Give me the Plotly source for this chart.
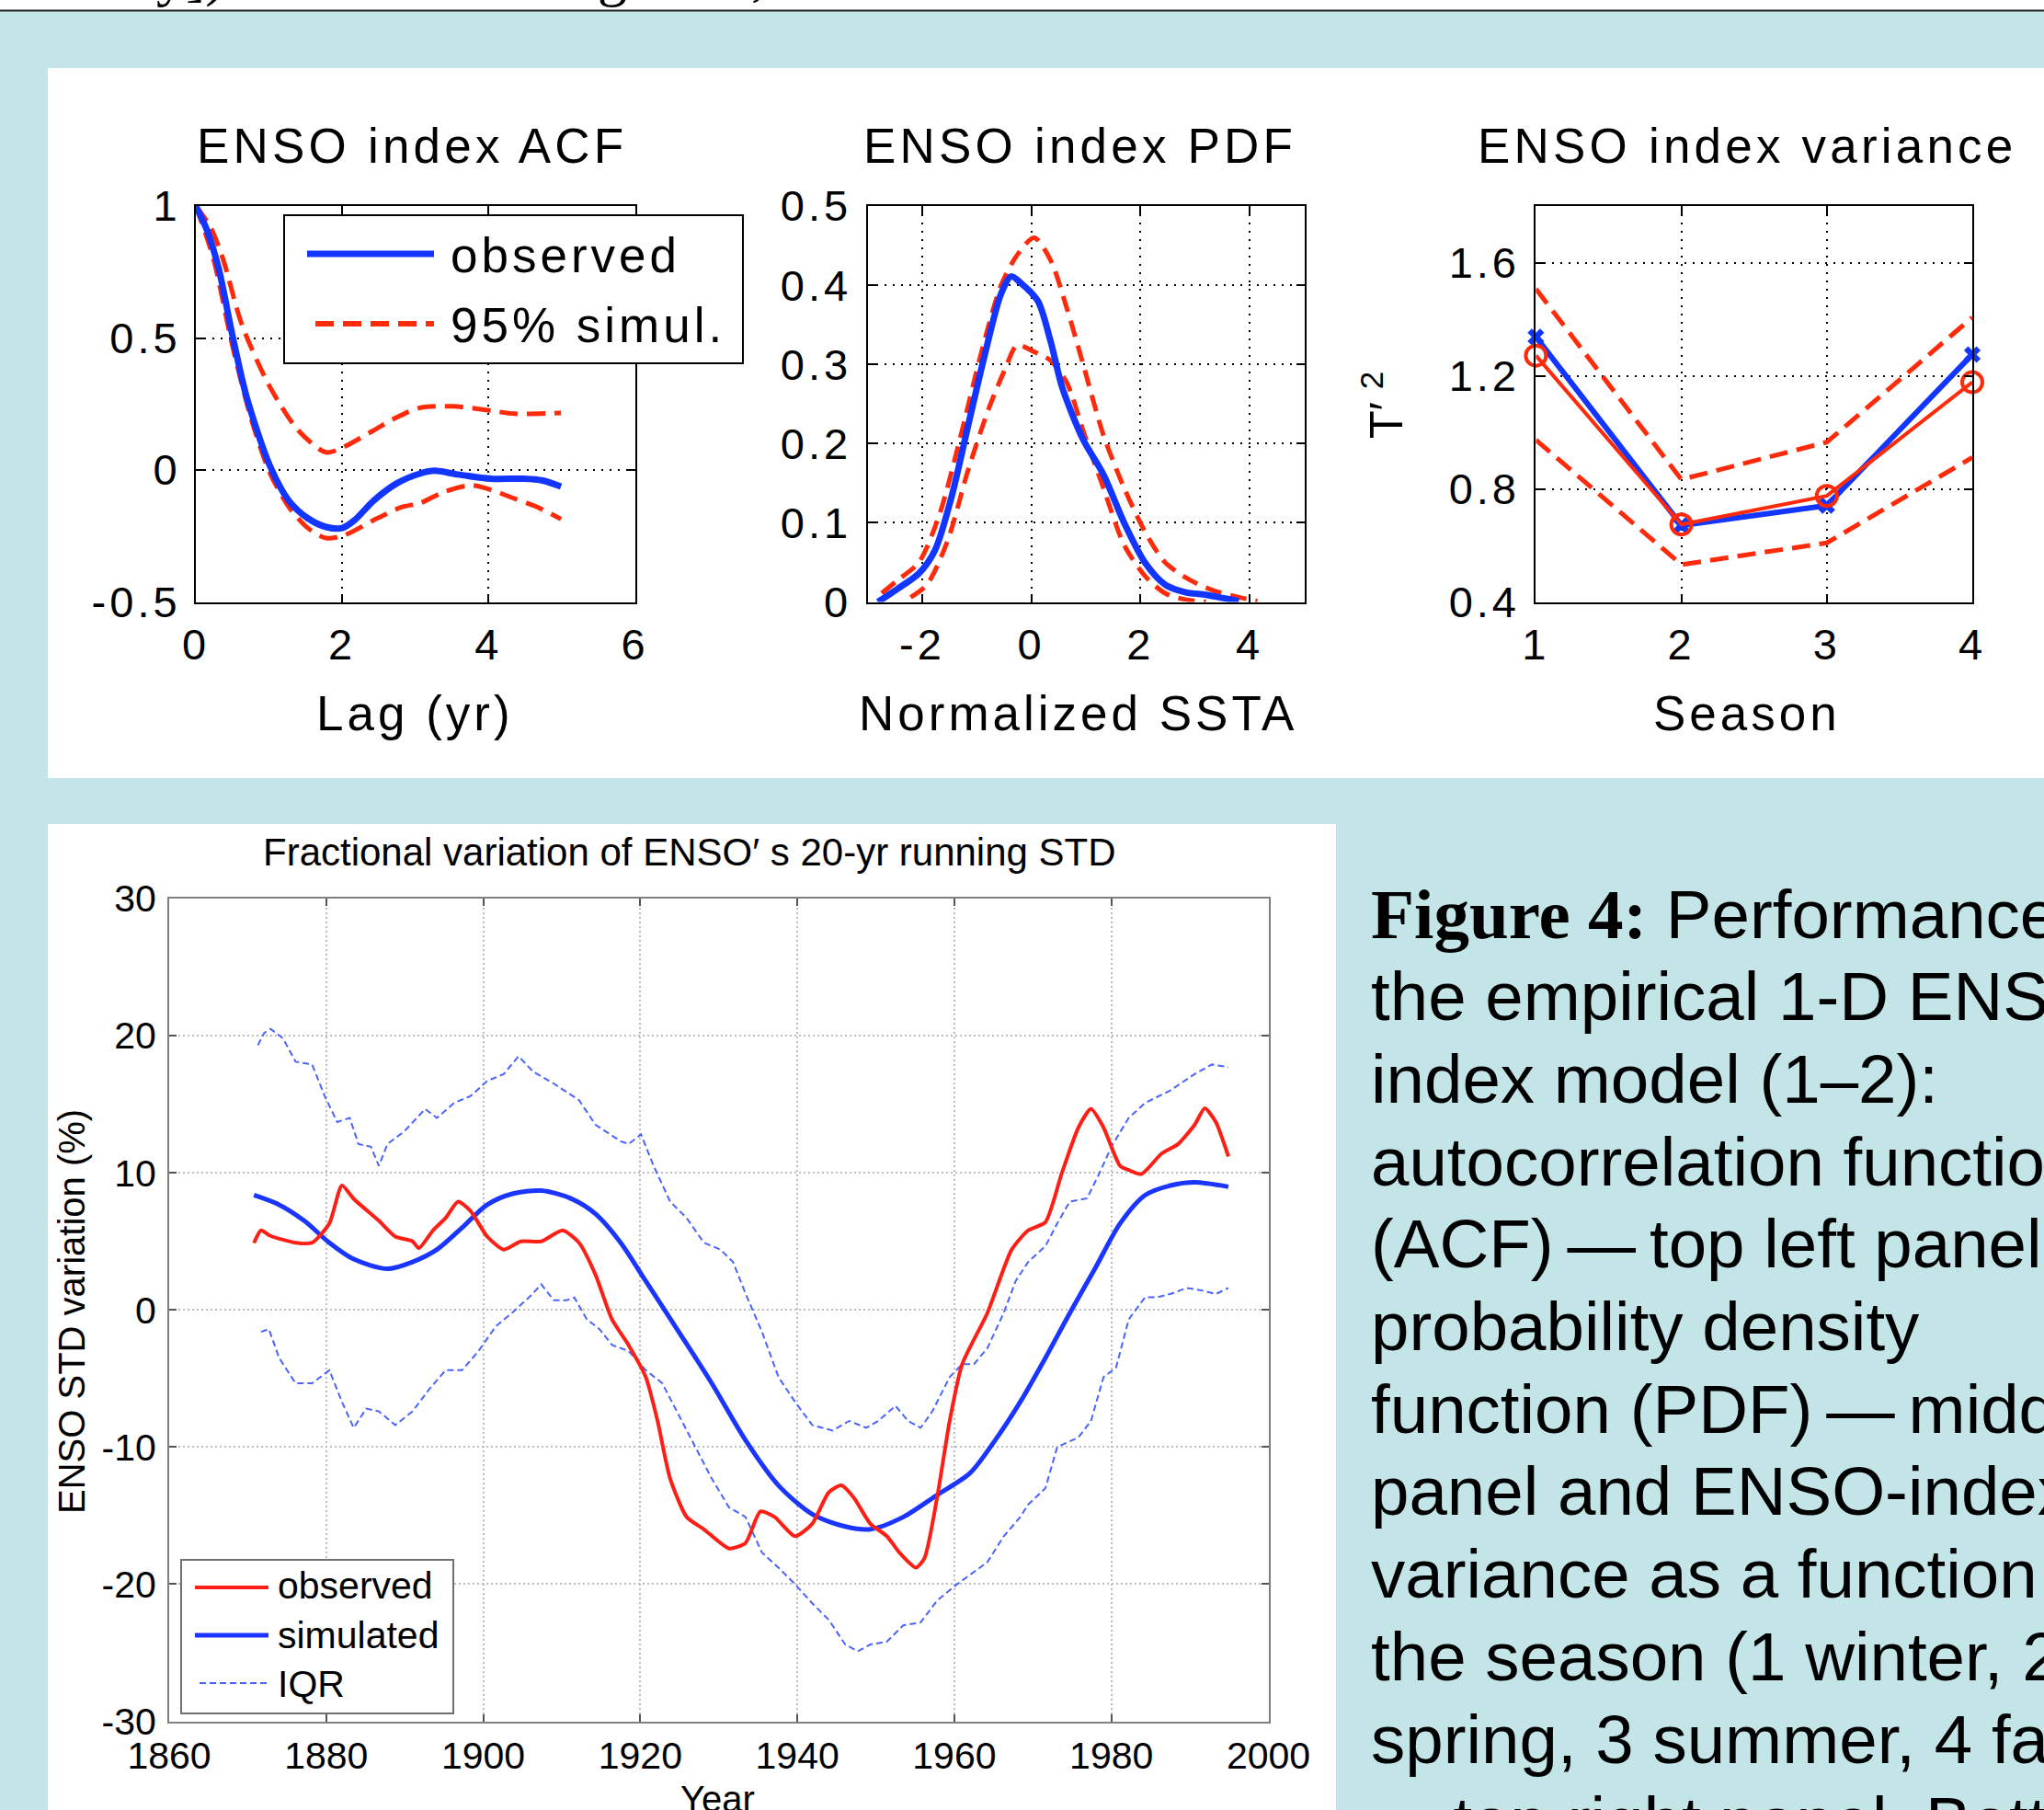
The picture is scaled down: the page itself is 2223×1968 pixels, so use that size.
import plotly.graph_objects as go

W, H = 2223, 1968
SANS = "Liberation Sans, Arial, Helvetica, sans-serif"
SERIF = "Liberation Serif, Times New Roman, serif"

# ---------------- data ----------------
# ACF panel
acf_lag_obs = [0, 0.15, 0.31, 0.5, 0.69, 1.01, 1.27, 1.53, 1.78, 2.0, 2.17, 2.43, 2.75, 3.07, 3.26, 3.58, 4.03, 4.48, 4.74, 4.99]
acf_obs = [1.0, 0.91, 0.765, 0.51, 0.28, 0.017, -0.116, -0.183, -0.216, -0.22, -0.19, -0.116, -0.05, -0.013, -0.003, -0.017, -0.033, -0.033, -0.04, -0.063]
acf_lag_hi = [0, 0.2, 0.37, 0.63, 1.01, 1.40, 1.78, 2.04, 2.43, 2.75, 3.07, 3.52, 4.03, 4.35, 4.99]
acf_hi = [1.0, 0.92, 0.8, 0.55, 0.316, 0.15, 0.067, 0.09, 0.15, 0.2, 0.236, 0.241, 0.225, 0.213, 0.216]
acf_lag_lo = [0, 0.24, 0.5, 0.76, 1.01, 1.27, 1.53, 1.78, 2.04, 2.43, 2.81, 3.07, 3.39, 3.77, 4.03, 4.35, 4.67, 4.99]
acf_lo = [1.0, 0.80, 0.47, 0.19, -0.01, -0.14, -0.22, -0.258, -0.246, -0.19, -0.141, -0.125, -0.083, -0.058, -0.075, -0.108, -0.141, -0.186]

# PDF panel
pdf_x_obs = [-2.81, -2.44, -2.06, -1.76, -1.46, -1.16, -0.86, -0.56, -0.37, -0.18, 0.12, 0.35, 0.57, 0.95, 1.32, 1.70, 2.08, 2.45, 2.83, 3.2, 3.58, 3.8]
pdf_obs = [0.0, 0.017, 0.036, 0.066, 0.133, 0.222, 0.31, 0.388, 0.411, 0.402, 0.38, 0.33, 0.27, 0.205, 0.161, 0.1, 0.05, 0.022, 0.012, 0.009, 0.004, 0.001]
pdf_x_hi = [-2.74, -2.44, -2.06, -1.68, -1.31, -0.93, -0.56, -0.26, 0.05, 0.35, 0.65, 0.95, 1.32, 1.70, 2.08, 2.45, 2.90, 3.35, 3.8, 4.14]
pdf_hi = [0.011, 0.028, 0.05, 0.111, 0.205, 0.311, 0.399, 0.438, 0.46, 0.432, 0.371, 0.3, 0.211, 0.144, 0.089, 0.05, 0.028, 0.014, 0.006, 0.001]
pdf_x_lo = [-2.21, -1.91, -1.53, -1.16, -0.78, -0.48, -0.26, 0.05, 0.35, 0.65, 0.95, 1.32, 1.70, 2.08, 2.45, 2.83, 3.2]
pdf_lo = [0.006, 0.022, 0.078, 0.166, 0.244, 0.294, 0.324, 0.316, 0.305, 0.277, 0.216, 0.144, 0.072, 0.033, 0.011, 0.003, 0.0]

# Variance panel
season = [1, 2, 3, 4]
var_x = [1.337, 0.671, 0.741, 1.275]
var_o = [1.271, 0.674, 0.775, 1.177]
var_hi = [1.507, 0.833, 0.965, 1.406]
var_lo = [0.973, 0.532, 0.609, 0.911]

# Bottom panel: 20-yr running STD
yr_obs = [1870.8, 1871.7, 1872.9, 1876.1, 1878.2, 1880.4, 1882.0, 1883.5, 1886.7, 1888.8, 1891.0, 1891.8, 1893.6, 1895.2,
          1896.8, 1898.4, 1900.5, 1902.6, 1904.8, 1907.4, 1910.1, 1912.2, 1914.3, 1916.4, 1918.5, 1920.7, 1922.2, 1923.8,
          1925.9, 1928.1, 1931.3, 1933.4, 1935.3, 1937.1, 1939.7, 1941.9, 1944.0, 1945.6, 1947.2, 1949.3, 1951.4, 1953.0,
          1955.1, 1956.2, 1957.8, 1959.4, 1961.0, 1964.2, 1967.3, 1969.4, 1971.6, 1973.7, 1975.8, 1977.4, 1979.0, 1981.1,
          1982.2, 1983.8, 1986.4, 1988.5, 1990.6, 1991.9, 1993.3, 1994.9]
std_obs = [4.88, 5.8, 5.4, 4.9, 4.9, 6.3, 9.07, 8.1, 6.5, 5.35, 5.0, 4.5, 5.8, 6.7,
           7.9, 7.2, 5.35, 4.4, 5.0, 5.0, 5.8, 4.9, 2.56, -0.7, -2.56, -4.9, -8.1, -12.3,
           -15.1, -16.0, -17.4, -17.0, -14.7, -15.1, -16.5, -15.6, -13.3, -12.8, -13.7, -15.6, -16.5, -17.7,
           -18.8, -18.1, -13.7, -8.1, -3.95, -0.23, 4.4, 5.8, 6.4, 10.0, 13.3, 14.65, 13.3, 10.5,
           10.2, 9.9, 11.4, 12.1, 13.5, 14.7, 13.7, 11.2]

yr_sim = [1870.8, 1874.0, 1877.2, 1880.4, 1883.5, 1887.8, 1891.0, 1894.1, 1897.3, 1900.5, 1903.7, 1907.4, 1911.1,
          1914.3, 1917.5, 1920.7, 1924.9, 1929.1, 1933.4, 1937.6, 1941.9, 1946.1, 1949.3, 1953.5, 1957.8, 1962.0,
          1965.2, 1968.4, 1971.6, 1974.7, 1977.9, 1981.1, 1984.3, 1987.5, 1990.6, 1994.9]
std_sim = [8.37, 7.67, 6.5, 4.9, 3.7, 3.0, 3.5, 4.4, 6.0, 7.67, 8.47, 8.7, 8.14,
           7.0, 4.9, 2.1, -1.6, -5.35, -9.5, -12.8, -14.9, -15.8, -16.0, -15.1, -13.5, -11.9,
           -9.5, -6.7, -3.5, -0.23, 3.0, 6.3, 8.37, 9.07, 9.3, 8.98]

yr_iqr_hi = [1871.3, 1872.1, 1872.9, 1874.5, 1876.1, 1878.2, 1879.8, 1881.4, 1883.0, 1884.1, 1885.7, 1886.7, 1887.8,
             1889.9, 1892.6, 1894.1, 1896.3, 1898.4, 1900.5, 1902.6, 1904.5, 1906.3, 1909.0, 1912.2, 1914.3, 1917.5,
             1918.5, 1920.1, 1921.7, 1923.8, 1925.9, 1928.1, 1930.2, 1931.8, 1933.4, 1935.5, 1937.6, 1939.7, 1941.9,
             1944.5, 1946.6, 1948.8, 1950.3, 1952.5, 1954.1, 1955.7, 1957.2, 1959.4, 1961.0, 1962.5, 1964.2, 1966.3,
             1967.8, 1969.4, 1971.6, 1973.1, 1974.7, 1976.9, 1978.5, 1980.0, 1982.2, 1984.3, 1987.5, 1990.6, 1992.8, 1994.9]
iqr_hi = [19.3, 20.2, 20.5, 19.8, 18.1, 17.9, 15.6, 13.7, 14.0, 12.1, 11.9, 10.5, 12.1,
          13.0, 14.65, 14.0, 15.1, 15.6, 16.7, 17.2, 18.5, 17.4, 16.5, 15.3, 13.5, 12.3,
          12.1, 12.8, 10.5, 7.9, 6.7, 4.9, 4.4, 3.5, 1.2, -1.6, -4.9, -6.7, -8.4,
          -8.8, -8.1, -8.6, -8.1, -7.0, -8.1, -8.6, -7.4, -4.9, -3.95, -3.95, -2.8, -0.2,
          2.1, 3.5, 4.65, 6.3, 7.9, 8.14, 10.0, 11.9, 14.0, 15.1, 16.0, 17.2, 17.9, 17.7]

yr_iqr_lo = [1871.7, 1872.7, 1874.0, 1876.1, 1878.2, 1880.4, 1882.0, 1883.5, 1885.1, 1886.7, 1888.8, 1891.0, 1893.1,
             1895.2, 1897.3, 1899.4, 1901.6, 1903.7, 1905.8, 1907.4, 1909.0, 1910.6, 1911.6, 1913.2, 1914.8, 1916.4,
             1918.5, 1920.7, 1922.8, 1924.9, 1927.0, 1929.1, 1931.3, 1933.4, 1935.5, 1937.6, 1939.7, 1941.9, 1944.0,
             1946.1, 1947.7, 1949.3, 1951.4, 1953.5, 1955.7, 1957.8, 1959.9, 1962.0, 1964.2, 1966.3, 1968.4, 1969.4,
             1971.6, 1973.1, 1975.8, 1977.4, 1979.0, 1980.6, 1982.2, 1984.3, 1985.9, 1987.5, 1989.6, 1991.7, 1993.3, 1994.9]
iqr_lo = [-1.6, -1.4, -3.5, -5.35, -5.35, -4.4, -6.7, -8.6, -7.2, -7.4, -8.4, -7.4, -5.8,
          -4.4, -4.4, -3.0, -1.2, -0.2, 0.9, 1.86, 0.7, 0.7, 0.9, -0.7, -1.4, -2.56,
          -3.0, -4.4, -5.35, -7.7, -10.0, -12.3, -14.4, -15.1, -17.7, -18.8, -20.0, -21.4, -22.6,
          -24.4, -24.9, -24.4, -24.2, -23.0, -22.8, -21.2, -20.2, -19.3, -18.4, -16.5, -15.1, -14.2,
          -13.0, -10.0, -9.3, -8.1, -4.9, -4.2, -0.7, 0.93, 0.93, 1.16, 1.6, 1.4, 1.16, 1.6]

# tick labels
acf_xticks = [0, 2, 4, 6]
acf_yticks = [-0.5, 0, 0.5, 1]
pdf_xticks = [-2, 0, 2, 4]
pdf_yticks = [0, 0.1, 0.2, 0.3, 0.4, 0.5]
var_xticks = [1, 2, 3, 4]
var_yticks = [0.4, 0.8, 1.2, 1.6]
year_ticks = [1860, 1880, 1900, 1920, 1940, 1960, 1980, 2000]
std_ticks = [-30, -20, -10, 0, 10, 20, 30]

caption_lines = [
    "the empirical 1-D ENSO",
    "index model (1\u20132):",
    "autocorrelation function",
    "(ACF)\u2009\u2014\u2009top left panel",
    "probability density",
    "function (PDF)\u2009\u2014\u2009middle",
    "panel and ENSO-index",
    "variance as a function of",
    "the season (1 winter, 2",
    "spring, 3 summer, 4 fall)",
    "\u2014\u2009top right panel. Bottom",
]

# ---------------- style / helpers ----------------
BLUE = "#1236ff"
RED = "#ff2a0a"
BG = "#c4e5e7"


def px(x):
    return x / W


def py(y):
    return 1 - y / H


def sp(t, ls):
    return f'<span style="letter-spacing:{ls}px">{t}</span>'


def fmt(v):
    return f"{v:g}"


fig = go.Figure()

# ACF
fig.add_trace(go.Scatter(x=acf_lag_hi, y=acf_hi, mode="lines", line=dict(color=RED, width=5, dash="20px,10px", shape="spline", smoothing=0.8), xaxis="x", yaxis="y"))
fig.add_trace(go.Scatter(x=acf_lag_lo, y=acf_lo, mode="lines", line=dict(color=RED, width=5, dash="20px,10px", shape="spline", smoothing=0.8), xaxis="x", yaxis="y"))
fig.add_trace(go.Scatter(x=acf_lag_obs, y=acf_obs, mode="lines", line=dict(color=BLUE, width=7, shape="spline", smoothing=0.8), xaxis="x", yaxis="y"))

# PDF
fig.add_trace(go.Scatter(x=pdf_x_hi, y=pdf_hi, mode="lines", line=dict(color=RED, width=5, dash="18px,10px", shape="spline", smoothing=0.8), xaxis="x2", yaxis="y2"))
fig.add_trace(go.Scatter(x=pdf_x_lo, y=pdf_lo, mode="lines", line=dict(color=RED, width=5, dash="18px,10px", shape="spline", smoothing=0.8), xaxis="x2", yaxis="y2"))
fig.add_trace(go.Scatter(x=pdf_x_obs, y=pdf_obs, mode="lines", line=dict(color=BLUE, width=7, shape="spline", smoothing=0.8), xaxis="x2", yaxis="y2"))

# Variance
fig.add_trace(go.Scatter(x=season, y=var_hi, mode="lines", line=dict(color=RED, width=5, dash="20px,10px"), xaxis="x3", yaxis="y3"))
fig.add_trace(go.Scatter(x=season, y=var_lo, mode="lines", line=dict(color=RED, width=5, dash="20px,10px"), xaxis="x3", yaxis="y3"))
fig.add_trace(go.Scatter(x=season, y=var_x, mode="lines+markers", line=dict(color=BLUE, width=6),
                         marker=dict(symbol="x", size=16, color=BLUE), xaxis="x3", yaxis="y3", cliponaxis=False))
fig.add_trace(go.Scatter(x=season, y=var_o, mode="lines+markers", line=dict(color=RED, width=4),
                         marker=dict(symbol="circle-open", size=22, color=RED, line=dict(width=4, color=RED)),
                         xaxis="x3", yaxis="y3", cliponaxis=False))

# Bottom
fig.add_trace(go.Scatter(x=yr_iqr_hi, y=iqr_hi, mode="lines", line=dict(color="#4a64ff", width=2, dash="7px,4px"), xaxis="x4", yaxis="y4"))
fig.add_trace(go.Scatter(x=yr_iqr_lo, y=iqr_lo, mode="lines", line=dict(color="#4a64ff", width=2, dash="7px,4px"), xaxis="x4", yaxis="y4"))
fig.add_trace(go.Scatter(x=yr_sim, y=std_sim, mode="lines", line=dict(color="#1a35ff", width=5, shape="spline", smoothing=0.8), xaxis="x4", yaxis="y4"))
fig.add_trace(go.Scatter(x=yr_obs, y=std_obs, mode="lines", line=dict(color="#ff1e14", width=4, shape="spline", smoothing=0.6), xaxis="x4", yaxis="y4"))


def top_axis(domain, rng, ticks, anchor, standoff):
    return dict(domain=domain, range=rng, anchor=anchor, tickmode="array", tickvals=ticks,
                ticktext=[sp(fmt(t), 4) for t in ticks],
                showgrid=True, gridcolor="black", griddash="2px,7px", gridwidth=1.5,
                showline=True, linecolor="black", linewidth=2, mirror="ticks",
                ticks="inside", ticklen=9, tickwidth=2, tickcolor="black",
                tickfont=dict(family=SANS, size=47, color="black"), zeroline=False,
                ticklabelstandoff=standoff, automargin=False)


def bot_axis(domain, rng, ticks, anchor, standoff):
    return dict(domain=domain, range=rng, anchor=anchor, tickmode="array", tickvals=ticks,
                ticktext=[fmt(t) for t in ticks],
                showgrid=True, gridcolor="#bdbdbd", griddash="2px,3px", gridwidth=1.5,
                showline=True, linecolor="#808080", linewidth=2, mirror="ticks",
                ticks="inside", ticklen=8, tickwidth=1.5, tickcolor="#555555",
                tickfont=dict(family=SANS, size=41, color="black"), zeroline=False,
                ticklabelstandoff=standoff, automargin=False)


ytop = [py(654.5), py(224)]
layout = dict(
    width=W, height=H, margin=dict(l=0, r=0, t=0, b=0, pad=0, autoexpand=False),
    paper_bgcolor=BG, plot_bgcolor="white", showlegend=False,
    xaxis=top_axis([px(213), px(690.5)], [0, 6], acf_xticks, "y", 4),
    yaxis=top_axis(ytop, [-0.5, 1], acf_yticks, "x", 5),
    xaxis2=top_axis([px(943.5), px(1418.5)], [-3, 5], pdf_xticks, "y2", 4),
    yaxis2=top_axis(ytop, [0, 0.5], pdf_yticks, "x2", 6),
    xaxis3=top_axis([px(1670.4), px(2145)], [1, 4], var_xticks, "y3", 4),
    yaxis3=top_axis(ytop, [0.4, 1.8], var_yticks, "x3", 6),
    xaxis4=bot_axis([px(184), px(1379.5)], [1860, 2000], year_ticks, "y4", 0),
    yaxis4=bot_axis([py(1871.5), py(977)], [-30, 30], std_ticks, "x4", 4),
)
fig.update_layout(**layout)

shapes = []
# white strip and rule at top
shapes.append(dict(type="rect", xref="paper", yref="paper", x0=0, x1=1, y0=py(11), y1=1, fillcolor="white", line=dict(width=0), layer="below"))
shapes.append(dict(type="line", xref="paper", yref="paper", x0=0, x1=1, y0=py(11.5), y1=py(11.5), line=dict(color="#222222", width=2), layer="below"))
# white panels
shapes.append(dict(type="rect", xref="paper", yref="paper", x0=px(52), x1=1.0, y0=py(846), y1=py(74), fillcolor="white", line=dict(width=0), layer="below"))
shapes.append(dict(type="rect", xref="paper", yref="paper", x0=px(52), x1=px(1453), y0=0, y1=py(896), fillcolor="white", line=dict(width=0), layer="below"))

# ACF legend box
shapes.append(dict(type="rect", xref="paper", yref="paper", x0=px(309), x1=px(808), y0=py(395), y1=py(234), fillcolor="white", line=dict(color="black", width=2)))
shapes.append(dict(type="line", xref="paper", yref="paper", x0=px(334), x1=px(472), y0=py(276), y1=py(276), line=dict(color=BLUE, width=7)))
shapes.append(dict(type="line", xref="paper", yref="paper", x0=px(343), x1=px(472), y0=py(352), y1=py(352), line=dict(color=RED, width=6, dash="20px,10px")))

# bottom legend box
shapes.append(dict(type="rect", xref="paper", yref="paper", x0=px(197), x1=px(493), y0=py(1863), y1=py(1696), fillcolor="white", line=dict(color="#707070", width=2)))
shapes.append(dict(type="line", xref="paper", yref="paper", x0=px(212), x1=px(292), y0=py(1726), y1=py(1726), line=dict(color="#ff1e14", width=4)))
shapes.append(dict(type="line", xref="paper", yref="paper", x0=px(212), x1=px(292), y0=py(1778), y1=py(1778), line=dict(color="#1a35ff", width=5)))
shapes.append(dict(type="line", xref="paper", yref="paper", x0=px(217), x1=px(292), y0=py(1830), y1=py(1830), line=dict(color="#4a64ff", width=2, dash="7px,4px")))

fig.update_layout(shapes=shapes)

anns = []


def ann(text, x, y, size, xanchor="center", yanchor="middle", family=SANS, angle=0, color="black"):
    anns.append(dict(text=text, x=px(x), y=py(y), xref="paper", yref="paper", xanchor=xanchor, yanchor=yanchor,
                     showarrow=False, textangle=angle, font=dict(family=family, size=size, color=color)))


# cut-off fragments of the body text above the rule
ann("y])", 168, 10, 64, xanchor="left", yanchor="bottom", family=SERIF)
ann("g", 648, 10, 64, xanchor="left", yanchor="bottom", family=SERIF)
ann(",", 815, 10, 64, xanchor="left", yanchor="bottom", family=SERIF)

# titles
ann(sp("ENSO index ACF", 4.2), 448, 158, 53)
ann(sp("ENSO index PDF", 4.2), 1174, 158, 53)
ann(sp("ENSO index variance", 4.2), 1900, 158, 53)
# axis labels
ann(sp("Lag (yr)", 4), 451, 775, 53)
ann(sp("Normalized SSTA", 4), 1172, 775, 53)
ann(sp("Season", 4), 1900, 775, 53)
ann("T\u2032 <sup>2</sup>", 1504, 440, 50, angle=-90)
# ACF legend text
ann(sp("observed", 4), 488, 278, 53, xanchor="left")
ann(sp("95% simul.", 4), 488, 353, 53, xanchor="left")

# bottom panel texts
ann("Fractional variation of ENSO\u2032 s 20-yr running STD", 750, 927, 42)
ann("ENSO STD variation (%)", 78, 1426, 40, angle=-90)
ann("Year", 780, 1956, 40)
ann("observed", 300, 1724, 41, xanchor="left")
ann("simulated", 300, 1778, 41, xanchor="left")
ann("IQR", 300, 1831, 41, xanchor="left")

# caption
ann('<span style="font-family:Liberation Serif,Times New Roman,serif;font-weight:bold;font-size:77px">Figure 4:</span> Performance of',
    1489, 994, 74.5, xanchor="left")
for i, line in enumerate(caption_lines):
    ann(line, 1489, 994 + 89.7 * (i + 1), 74.5, xanchor="left")

fig.update_layout(annotations=anns)

fig.write_html("out.html")
